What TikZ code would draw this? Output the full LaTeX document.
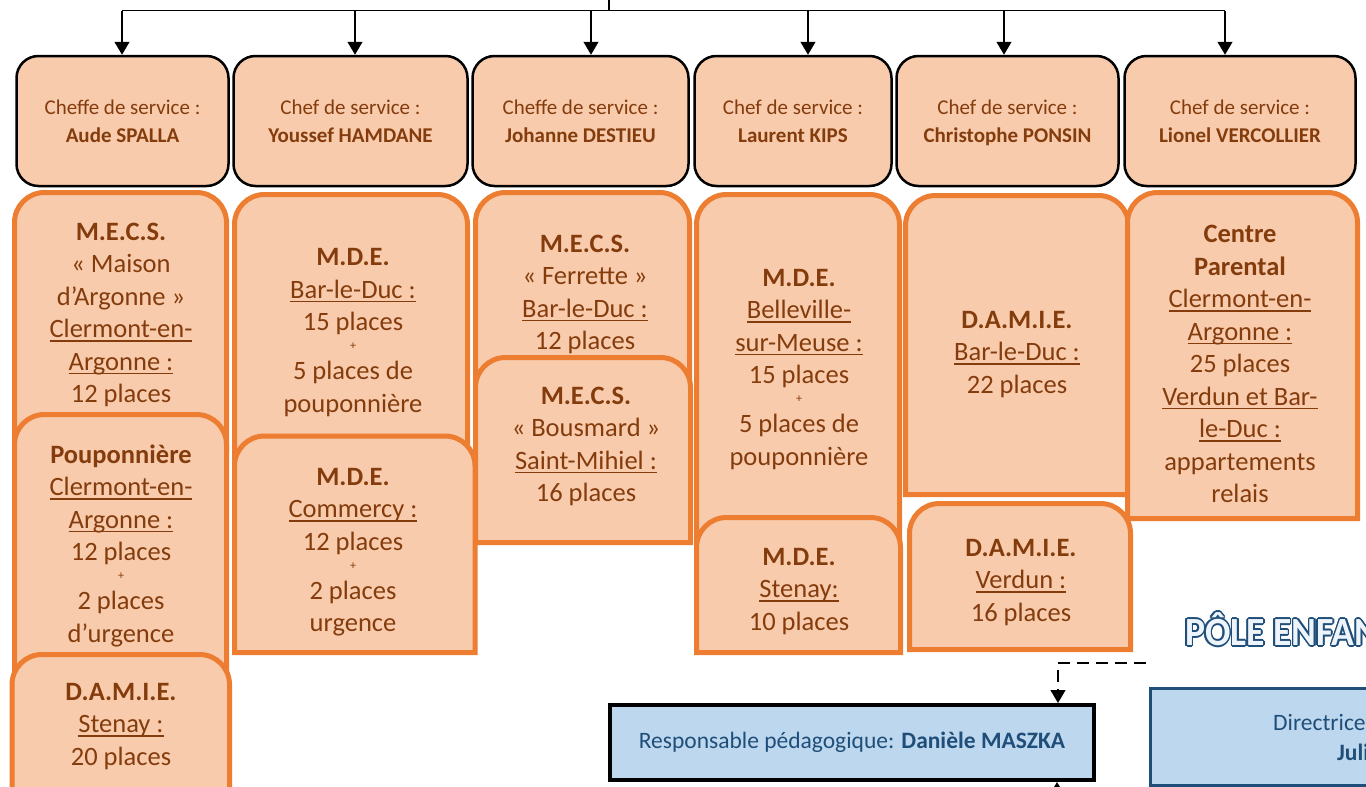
\documentclass[tikz,border=0pt]{standalone}
\usepackage{fontspec}
\setmainfont{Carlito}
\usetikzlibrary{arrows.meta}
\definecolor{orclair}{HTML}{F8CBAD}
\definecolor{orfonce}{HTML}{ED7D31}
\definecolor{brun}{HTML}{843C0C}
\definecolor{bleuclair}{HTML}{BDD7EE}
\definecolor{bleufonce}{HTML}{1F4E79}
\definecolor{blanc}{HTML}{EEF4FB}
\newcommand{\souligne}[1]{\setbox0=\hbox{#1}\rlap{\rule[-4pt]{\wd0}{1.5pt}}\box0}

\begin{document}
\begin{tikzpicture}[%
  x=1pt, y=-1pt,
  >={Triangle[length=13pt,width=15pt]},
  lien/.style={line width=1.3pt},
  chef/.style={
    draw, line width=2.5pt, fill=orclair, rounded corners=22pt,
    minimum height=130pt, inner sep=0pt, align=center, text=brun,
    font=\fontsize{21}{28}\selectfont},
  etab/.style={draw=orfonce, fill=orclair, line width=5pt},
  lieu/.style={
    inner sep=0pt, align=center, text=brun,
    font=\fontsize{26.5}{32.5}\selectfont},
  resp/.style={
    draw, fill=bleuclair, inner sep=0pt, text=bleufonce,
    font=\fontsize{23.5}{28}\selectfont},
  pole/.style={
    anchor=base west, inner sep=0pt, xscale=0.94,
    font=\fontsize{40}{40}\selectfont\bfseries}
  ]
  \useasboundingbox (0,0) rectangle (1366,787);
  \clip (0,0) rectangle (1366,787);

  %% Chefs de service
  \node[chef, minimum width=212pt] (chef1) at (122.5,121) {Cheffe de service :\\\textbf{Aude SPALLA}};
  \node[chef, minimum width=234pt] (chef2) at (350.5,121) {Chef de service :\\\textbf{Youssef HAMDANE}};
  \node[chef, minimum width=216pt] (chef3) at (580.5,121) {Cheffe de service :\\\textbf{Johanne DESTIEU}};
  \node[chef, minimum width=197pt] (chef4) at (793,121) {Chef de service :\\\textbf{Laurent KIPS}};
  \node[chef, minimum width=222pt] (chef5) at (1007.5,121) {Chef de service :\\\raisebox{0pt}[\height][0pt]{\textbf{Christophe PONSIN}}};
  \node[chef, minimum width=231pt] (chef6) at (1240,121) {Chef de service :\\\textbf{Lionel VERCOLLIER}};

  %% Liaisons du haut
  \coordinate (haut) at (609,-5);
  \coordinate (bus) at (609,10.5);
  \foreach \i/\x in {1/122,2/355,3/591,4/808,5/1004,6/1225}
    \coordinate (bus\i) at (\x,10.5);
  \draw[lien] (haut) -- (bus);
  \draw[lien] (bus1) -- (bus6);
  \foreach \i in {1,...,6}
    \draw[lien,->] (bus\i) -- (bus\i |- chef\i.north);

  %% Colonne 1
  \draw[etab] (14.5,450) -- (14.5,250) [rounded corners=30pt] -- (14.5,192.5) -- (226.5,192.5) -- (226.5,250) [sharp corners] -- (226.5,450) -- cycle;
  \node[lieu] (mecs1) at (121,315) {\textbf{M.E.C.S.}\\«~Maison\\d’Argonne~»\\\souligne{Clermont-en-}\\\souligne{Argonne :}\\12 places};
  \draw[etab] (14.5,700) -- (14.5,480) [rounded corners=30pt] -- (14.5,414.5) -- (226.5,414.5) -- (226.5,480) [sharp corners] -- (226.5,700) -- cycle;
  \node[lieu] (poup) at (121,545.5) {\textbf{Pouponnière}\\\souligne{Clermont-en-}\\\souligne{Argonne :}\\12 places\\[-13.5pt]{\fontsize{12}{12}\selectfont +}\\[-2.5pt]2 places\\d’urgence};
  \draw[etab] (12,800) -- (12,720) [rounded corners=30pt] -- (12,654.5) -- (229.5,654.5) -- (229.5,720) [sharp corners] -- (229.5,800) -- cycle;
  \node[lieu] (damie1) at (121,726.5) {\textbf{D.A.M.I.E.}\\\souligne{Stenay :}\\20 places};

  %% Colonne 2
  \draw[etab] (234.5,480) -- (234.5,260) [rounded corners=30pt] -- (234.5,194.5) -- (467.5,194.5) -- (467.5,260) [sharp corners] -- (467.5,480) -- cycle;
  \node[lieu] (mde1) at (353,332.5) {\textbf{M.D.E.}\\\souligne{Bar-le-Duc :}\\15 places\\[-13.5pt]{\fontsize{12}{12}\selectfont +}\\[-2.5pt]5 places de\\pouponnière};
  \draw[etab] (234.5,652.5) -- (234.5,500) [rounded corners=30pt] -- (234.5,436) -- (475,436) -- (475,500) [sharp corners] -- (475,652.5) -- cycle;
  \node[lieu] (mde2) at (353,552) {\textbf{M.D.E.}\\\souligne{Commercy :}\\12 places\\[-13.5pt]{\fontsize{12}{12}\selectfont +}\\[-2.5pt]2 places\\urgence};

  %% Colonne 3
  \draw[etab] (475.5,400) -- (475.5,260) [rounded corners=30pt] -- (475.5,192.5) -- (689.5,192.5) -- (689.5,260) [sharp corners] -- (689.5,400) -- cycle;
  \node[lieu] (mecs2) at (585,294.5) {\textbf{M.E.C.S.}\\«~Ferrette~»\\\souligne{Bar-le-Duc :}\\12 places};
  \draw[etab] (475.5,542.5) -- (475.5,420) [rounded corners=30pt] -- (475.5,357.5) -- (690.5,357.5) -- (690.5,420) [sharp corners] -- (690.5,542.5) -- cycle;
  \node[lieu] (mecs3) at (586,446.5) {\textbf{M.E.C.S.}\\«~Bousmard~»\\\souligne{Saint-Mihiel :}\\16 places};

  %% Colonne 4
  \draw[etab] (696.5,560) -- (696.5,260) [rounded corners=30pt] -- (696.5,194.5) -- (899.5,194.5) -- (899.5,260) [sharp corners] -- (899.5,560) -- cycle;
  \node[lieu] (mde3) at (799,369.5) {\textbf{M.D.E.}\\\souligne{Belleville-}\\\souligne{sur-Meuse :}\\15 places\\[-13.5pt]{\fontsize{12}{12}\selectfont +}\\[-2.5pt]5 places de\\pouponnière};
  \draw[etab] (696.5,652.5) -- (696.5,580) [rounded corners=30pt] -- (696.5,517.5) -- (900.5,517.5) -- (900.5,580) [sharp corners] -- (900.5,652.5) -- cycle;
  \node[lieu] (mde4) at (799,591.5) {\textbf{M.D.E.}\\\souligne{Stenay:}\\10 places};

  %% Colonne 5
  \draw[etab] (905.5,494.5) -- (905.5,260) [rounded corners=30pt] -- (905.5,195.5) -- (1128.5,195.5) -- (1128.5,260) [sharp corners] -- (1128.5,494.5) -- cycle;
  \node[lieu] (damie2) at (1017,354.5) {\textbf{D.A.M.I.E.}\\\souligne{Bar-le-Duc :}\\22 places};
  \draw[etab] (909.5,649.5) -- (909.5,570) [rounded corners=30pt] -- (909.5,503.5) -- (1130.5,503.5) -- (1130.5,570) [sharp corners] -- (1130.5,649.5) -- cycle;
  \node[lieu] (damie3) at (1021,582.5) {\textbf{D.A.M.I.E.}\\\souligne{Verdun :}\\16 places};

  %% Colonne 6
  \draw[etab] (1127.5,518.5) -- (1127.5,260) [rounded corners=30pt] -- (1127.5,192.5) -- (1357.5,192.5) -- (1357.5,260) [sharp corners] -- (1357.5,518.5) -- cycle;
  \node[lieu] (centre) at (1240,364) {\textbf{Centre}\\\textbf{Parental}\\\souligne{Clermont-en-}\\\souligne{Argonne :}\\25 places\\\souligne{Verdun et Bar-}\\\souligne{le-Duc :}\\appartements\\relais};

  %% Pole enfance
  \foreach \a in {0,30,...,330}
    \node[pole, text=bleufonce, shift={(\a:1.7pt)}] (contour\a) at (1185,645.5) {PÔLE ENFAN};
  \node[pole, text=blanc] (pole) at (1185,645.5) {PÔLE ENFAN};

  %% Responsables
  \node[resp, line width=4pt, minimum width=484pt, minimum height=75pt] (resp) at (852,742.5) {Responsable pédagogique: \textbf{Danièle MASZKA}};
  \node[resp, draw=bleufonce, line width=3pt, minimum width=400pt, minimum height=97pt, anchor=north west] (dir) at (1148.5,686.5) {};
  \node[anchor=base west, inner sep=0pt, text=bleufonce, font=\fontsize{23.5}{28}\selectfont] (dirtxt) at (1273,730) {Directrice};
  \node[anchor=base west, inner sep=0pt, text=bleufonce, font=\fontsize{23.5}{28}\selectfont\bfseries] (dirnom) at (1337,760) {Juli};

  %% Liaisons du bas
  \coordinate (tiret) at (1146,663);
  \coordinate (coude) at (1058,663);
  \coordinate (bas) at (1057,830);
  \draw[lien, dash pattern=on 12pt off 7pt, ->] (tiret) -- (coude) -- (coude |- resp.north);
  \draw[lien, ->] (bas) -- (bas |- resp.south);
\end{tikzpicture}
\end{document}
